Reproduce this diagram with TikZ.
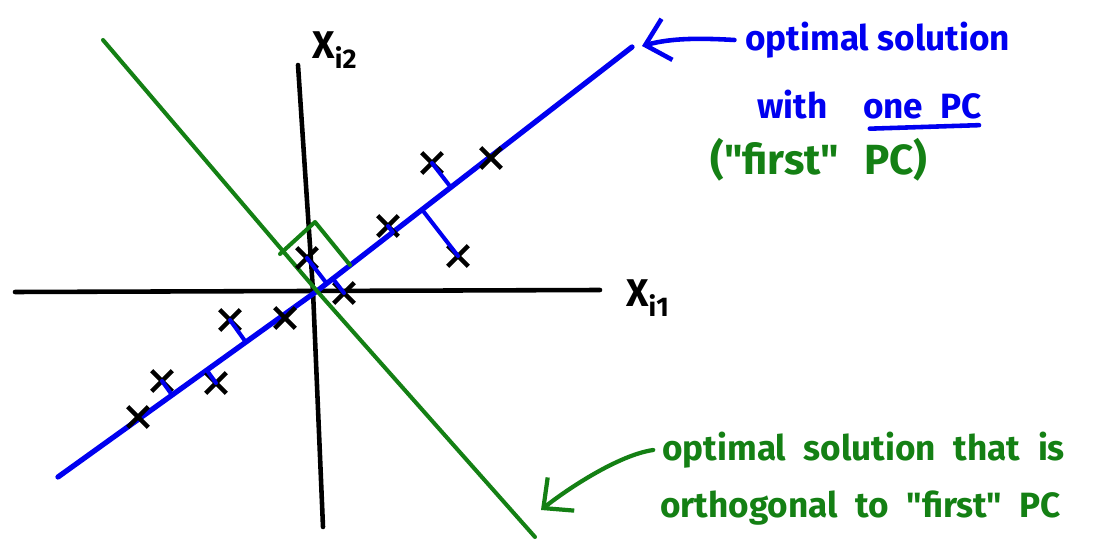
\documentclass[tikz,border=0pt]{standalone}
\usepackage{fontspec}
\setmainfont{Fira Sans}[Ligatures=TeXOff]
\usetikzlibrary{arrows.meta,calc,shapes.misc}
\definecolor{pcblue}{RGB}{0,0,240}
\definecolor{pcgreen}{RGB}{20,128,20}
\newcommand{\notefont}{\bfseries\fontsize{20}{24}\selectfont\spaceskip 0.5em\relax}
\newcommand{\bignotefont}{\bfseries\fontsize{24}{28}\selectfont\spaceskip 0.6em\relax}

\begin{document}
\begin{tikzpicture}[x=0.02cm, y=-0.02cm,
  ax/.style={line width=2.6pt, line cap=round, line join=round},
  pcline/.style={pcblue, line width=3pt, line cap=round, line join=round},
  ortho/.style={pcgreen, line width=2.3pt, line cap=round, line join=round},
  proj/.style={pcblue, line width=2.3pt, line cap=round},
  obs/.style={draw, cross out, line width=2.6pt, minimum size=0.32cm, inner sep=0pt},
  axlbl/.style={font=\bfseries\fontsize{22}{26}\selectfont, inner sep=0pt},
  note/.style={font=\notefont, inner sep=0pt, anchor=west},
  callout/.style={line width=2.6pt, line cap=round,
                  -{Straight Barb[length=0.45cm, width=0.85cm]}}
]
\useasboundingbox (0,0) rectangle (1096,540);

%% axes
\coordinate (xL) at (15,292);
\coordinate (xR) at (600,290);
\coordinate (yT) at (298,65);
\coordinate (yM) at (313,291);
\coordinate (yB) at (323,527);
\draw[ax] (xL) -- (xR);
\draw[ax] (yT) -- (yM) -- (yB);
\node[axlbl] (xi2) at (335,50) {X\textsubscript{i2}};
\node[axlbl] (xi1) at (648,298) {X\textsubscript{i1}};

%% first PC (blue) and the orthogonal one (green)
\coordinate (bl) at (58,477);
\coordinate (o)  at (317,291);
\coordinate (bu) at (632,47);
\draw[pcline] (bl) -- (o) -- (bu);
\coordinate (gu) at (103,40);
\coordinate (gl) at (535,537);
\draw[ortho] (gu) -- (o) -- (gl);
\coordinate (ra1) at (280,254);
\coordinate (ra2) at (315,222);
\coordinate (ra3) at (350,265);
\draw[ortho] (ra1) -- (ra2) -- (ra3);

%% observations
\node[obs] (p1)  at (432,163) {};
\node[obs] (p2)  at (491,158) {};
\node[obs] (p3)  at (388,226) {};
\node[obs] (p4)  at (458,256) {};
\node[obs] (p5)  at (307,258) {};
\node[obs] (p6)  at (344,293) {};
\node[obs] (p7)  at (285,318) {};
\node[obs] (p8)  at (230,320) {};
\node[obs] (p9)  at (216,383) {};
\node[obs] (p10) at (162,381) {};
\node[obs] (p11) at (138,417) {};

%% projections onto the first PC
\foreach \p in {p1,p3,p4,p5,p6}
  \draw[proj] (\p.center) -- ($(o)!(\p.center)!(bu)$);
\foreach \p in {p8,p9,p10}
  \draw[proj] (\p.center) -- ($(bl)!(\p.center)!(o)$);

%% notes
\node[note, text=pcblue, font=\bfseries\fontsize{20}{24}\selectfont] (opt1) at (745,40) {optimal solution};
\node[note, text=pcblue] (with1) at (757,105) {with};
\node[note, text=pcblue, anchor=base west] (onepc) at ([xshift=0.7cm]with1.base east) {one PC};
\draw[pcline, line width=2.6pt] ([shift={(4pt,-5pt)}]onepc.south west) -- ([shift={(-2pt,-3pt)}]onepc.south east);
\node[note, text=pcgreen, font=\bignotefont] (first1) at (710,160) {("first" PC)};
\node[note, text=pcgreen] (orth1) at (662,450) {optimal solution that is};
\node[note, text=pcgreen] (orth2) at (660,508) {orthogonal to "first" PC};

\coordinate (pctip) at (642,46);
\coordinate (octip) at (541,510);
\draw[callout, pcblue] ([xshift=-6pt]opt1.west) .. controls +(-35,-2) and +(30,-8) .. (pctip);
\draw[callout, pcgreen, line width=2.4pt] ([xshift=-5pt]orth1.west) .. controls +(-35,5) and +(25,-20) .. (octip);
\end{tikzpicture}
\end{document}
